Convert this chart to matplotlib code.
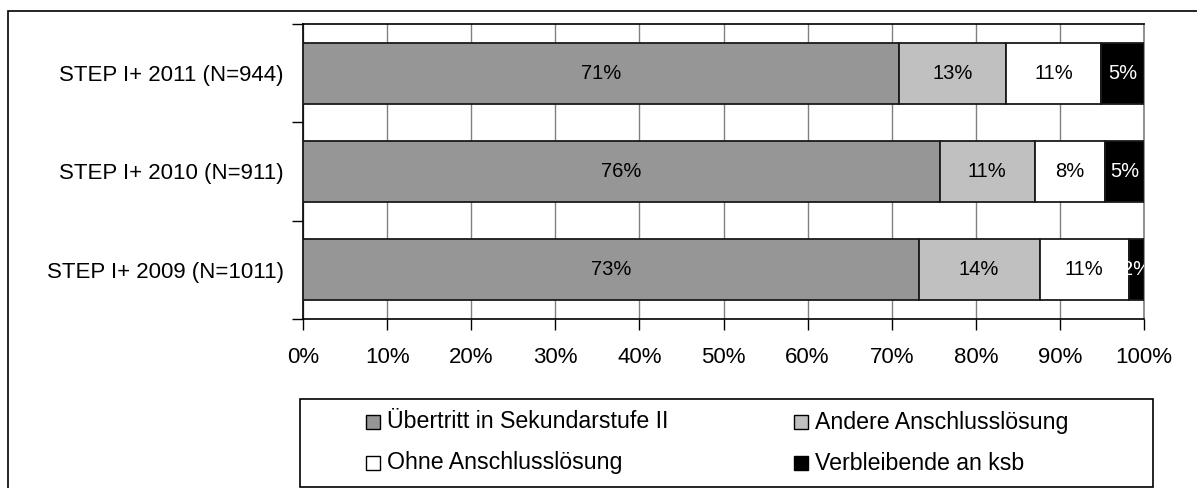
import matplotlib
matplotlib.use("Agg")
import matplotlib.pyplot as plt
from matplotlib.patches import Rectangle
import numpy as np

plt.rcParams['font.family'] = ['Liberation Sans', 'DejaVu Sans']

categories = ["STEP I+ 2009 (N=1011)", "STEP I+ 2010 (N=911)", "STEP I+ 2011 (N=944)"]
series_names = ["Übertritt in Sekundarstufe II", "Andere Anschlusslösung",
                "Ohne Anschlusslösung", "Verbleibende an ksb"]
uebertritt = [73.2, 75.7, 70.9]
andere = [14.4, 11.3, 12.7]
ohne = [10.6, 8.4, 11.3]
verbleibend = [1.8, 4.6, 5.1]
labels_uebertritt = ["73%", "76%", "71%"]
labels_andere = ["14%", "11%", "13%"]
labels_ohne = ["11%", "8%", "11%"]
labels_verbleibend = ["2%", "5%", "5%"]
xticks = [0, 10, 20, 30, 40, 50, 60, 70, 80, 90, 100]
xticklabels = [f"{v}%" for v in xticks]

colors = ["#969696", "#c0c0c0", "#ffffff", "#000000"]
text_colors = ["black", "black", "black", "white"]

W, H = 1197, 488
fig = plt.figure(figsize=(W / 100, H / 100), dpi=100)

# outer border (right/bottom lie outside the image)
fig.patches.append(Rectangle((8 / W, -0.1), 1.2, 1 - 11 / H + 0.1, transform=fig.transFigure,
                             fill=False, edgecolor="black", linewidth=1.2, zorder=0))

ax = fig.add_axes([303 / W, 1 - 319 / H, (1144 - 303) / W, (319 - 24) / H])
y = np.arange(len(categories))
data = [uebertritt, andere, ohne, verbleibend]
labs = [labels_uebertritt, labels_andere, labels_ohne, labels_verbleibend]
left = np.zeros(len(categories))
for vals, col, tc, lab, name in zip(data, colors, text_colors, labs, series_names):
    vals = np.array(vals)
    ax.barh(y, vals, left=left, height=0.62, color=col, edgecolor="#1a1a1a",
            linewidth=1.3, label=name, zorder=3)
    for yi, l, v, t in zip(y, left, vals, lab):
        ax.text(l + v / 2, yi, t, ha="center", va="center", color=tc,
                fontsize=14.5, zorder=4, clip_on=True)
    left = left + vals

ax.set_xlim(0, 100)
ax.set_ylim(-0.5, 2.5)
ax.set_xticks(xticks)
ax.set_xticklabels(xticklabels, fontsize=16)
ax.set_yticks(y)
ax.set_yticklabels(categories, fontsize=16)
ax.set_yticks([-0.5, 0.5, 1.5, 2.5], minor=True)
ax.tick_params(axis="y", which="major", length=0, pad=14)
ax.tick_params(axis="y", which="minor", length=8, width=1, color="black")
ax.tick_params(axis="x", which="major", direction="out", length=8, width=1, pad=12)
ax.grid(axis="x", color="#808080", linewidth=1, zorder=0)
ax.set_axisbelow(True)
ax.spines["top"].set_color("black")
ax.spines["right"].set_color("#808080")
ax.spines["left"].set_color("black")
ax.spines["bottom"].set_color("black")
for s in ax.spines.values():
    s.set_linewidth(1.2)

# legend (frame + entries placed like the reference)
fig.patches.append(Rectangle((300 / W, 1 - 487 / H), (1153 - 300) / W, (487 - 399) / H,
                             transform=fig.transFigure, fill=False, edgecolor="black",
                             linewidth=1.2, zorder=5))
entry_pos = [(366, 422), (794, 422), (366, 463), (794, 463)]
entry_order = [0, 1, 2, 3]
box = 14
for i, (px, py) in zip(entry_order, entry_pos):
    fig.patches.append(Rectangle((px / W, 1 - (py + box / 2) / H), box / W, box / H,
                                 transform=fig.transFigure, facecolor=colors[i],
                                 edgecolor="black", linewidth=1, zorder=6))
    fig.text((px + box + 7) / W, 1 - py / H, series_names[i], ha="left", va="center",
             fontsize=16.7, zorder=6)

fig.savefig("out.png", dpi=100)
